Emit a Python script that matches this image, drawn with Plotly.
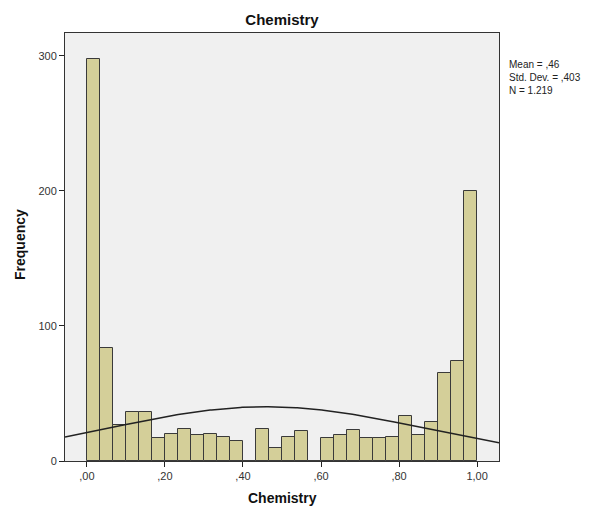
import numpy as np
import plotly.graph_objects as go

# Histogram data (30 bins of width 1/30 from 0 to 1)
bin_width = 1 / 30
bin_starts = [i / 30 for i in range(30)]
counts = [298, 84, 27, 36, 36, 17, 20, 24, 19, 20, 18, 15, 0, 24, 10,
          18, 22, 0, 17, 19, 23, 17, 17, 18, 33, 19, 29, 65, 74, 200]

# Summary statistics (as shown)
mean_val = 0.46
std_val = 0.403
n_val = 1219

x_tickvals = [0, 0.2, 0.4, 0.6, 0.8, 1.0]
x_ticktext = [",00", ",20", ",40", ",60", ",80", "1,00"]
y_tickvals = [0, 100, 200, 300]
x_range = [-0.056, 1.056]
y_range = [0, 317]

centers = [s + bin_width / 2 for s in bin_starts]

# Fitted normal curve from mean/sd/N
xc = np.linspace(x_range[0], x_range[1], 300)
yc = n_val * bin_width / (std_val * np.sqrt(2 * np.pi)) * np.exp(-0.5 * ((xc - mean_val) / std_val) ** 2)

fig = go.Figure()
fig.add_trace(go.Bar(
    x=centers, y=counts, width=bin_width,
    marker=dict(color="#D4CF99", line=dict(color="#3a3a3a", width=1)),
    hoverinfo="skip", showlegend=False,
))
fig.add_trace(go.Scatter(
    x=xc, y=yc, mode="lines",
    line=dict(color="#222222", width=1.5),
    hoverinfo="skip", showlegend=False,
))

font = "Liberation Sans, Arial, sans-serif"
L, R, T, B = 65, 499, 33, 461
W, H = 590, 508
fig.update_layout(
    width=W, height=H,
    margin=dict(l=L, r=W - R, t=T, b=H - B),
    paper_bgcolor="white",
    plot_bgcolor="#F0F0F0",
    font=dict(family=font, size=11, color="#333333"),
    title=dict(text="<b>Chemistry</b>", x=(L + R) / 2 / W, xanchor="center",
               y=1 - 20 / H, yanchor="middle",
               font=dict(family=font, size=15, color="#111111")),
    bargap=0,
    xaxis=dict(
        range=x_range, tickvals=x_tickvals, ticktext=x_ticktext,
        ticks="outside", ticklen=5, tickcolor="#222222",
        showline=True, linecolor="#333333", linewidth=1, mirror=True,
        showgrid=False, zeroline=False, automargin=False,
        tickfont=dict(size=11, color="#333333"),
    ),
    yaxis=dict(
        range=y_range, tickvals=y_tickvals,
        ticks="outside", ticklen=5, tickcolor="#222222",
        showline=True, linecolor="#333333", linewidth=1, mirror=True,
        showgrid=False, zeroline=False, automargin=False,
        tickfont=dict(size=11, color="#333333"),
    ),
)

# Axis titles
fig.add_annotation(
    xref="paper", yref="paper", x=0.5, y=-(498 - B) / (B - T),
    xanchor="center", yanchor="middle", showarrow=False,
    text="<b>Chemistry</b>", font=dict(family=font, size=14, color="#111111"),
)
fig.add_annotation(
    xref="paper", yref="paper", x=-(L - 20) / (R - L), y=1 - (245 - T) / (B - T),
    xanchor="center", yanchor="middle", showarrow=False, textangle=-90,
    text="<b>Frequency</b>", font=dict(family=font, size=14, color="#111111"),
)

fig.add_annotation(
    xref="paper", yref="paper",
    x=(507 - L) / (R - L), y=1 - (57 - T) / (B - T),
    xanchor="left", yanchor="top", align="left", showarrow=False,
    text=f"Mean = ,{int(round(mean_val*100)):02d}<br>Std. Dev. = ,{int(round(std_val*1000)):03d}<br>N = 1.219",
    font=dict(family=font, size=10, color="#222222"),
)

fig.write_html("out.html")
